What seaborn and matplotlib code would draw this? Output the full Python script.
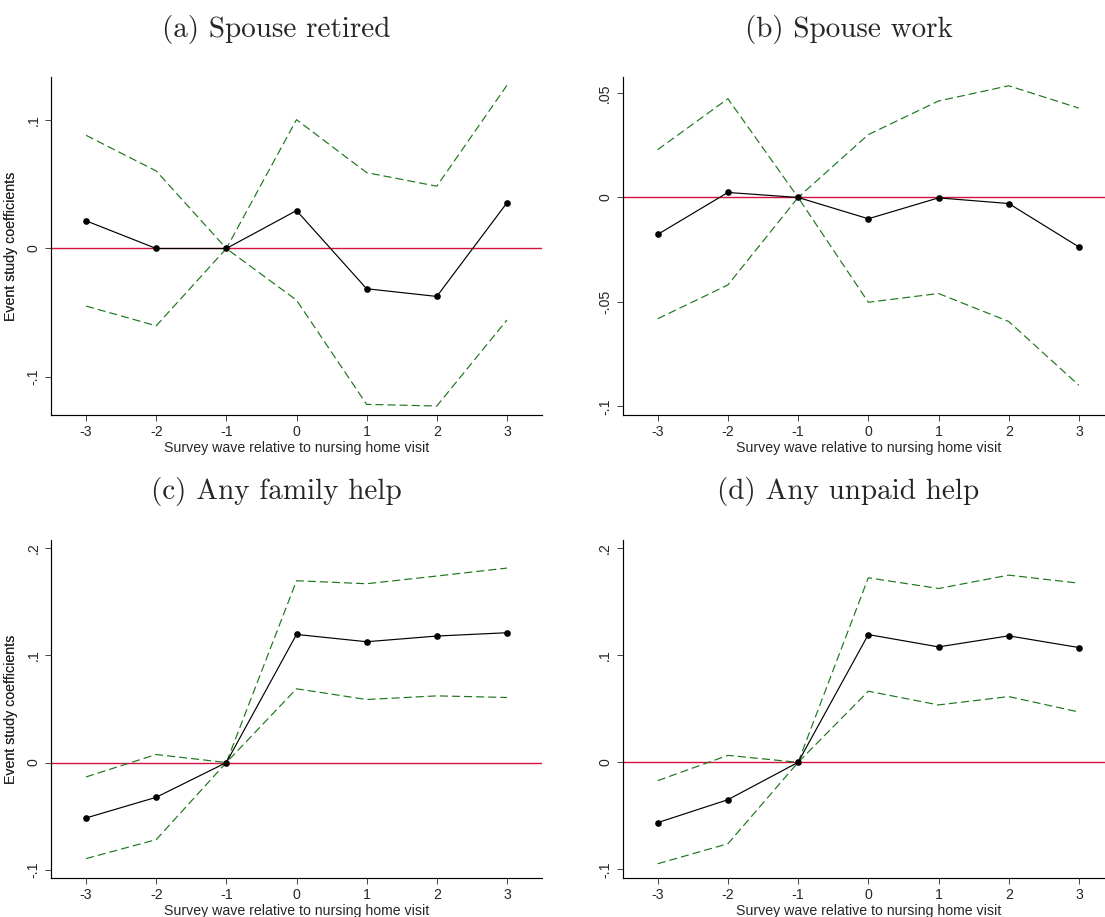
import matplotlib
matplotlib.use("Agg")
import matplotlib.pyplot as plt
import seaborn as sns

# Event-study estimates by survey wave relative to the nursing home visit
waves = [-3, -2, -1, 0, 1, 2, 3]
wave_labels = ["-3", "-2", "-1", "0", "1", "2", "3"]

# (a) Spouse retired
retired_coef = [0.0216, 0.0000, 0.0, 0.0296, -0.0314, -0.0374, 0.0356]
retired_upper = [0.0883, 0.0605, 0.0, 0.1005, 0.0592, 0.0486, 0.1273]
retired_lower = [-0.0449, -0.0603, 0.0, -0.0403, -0.1216, -0.1229, -0.0558]
retired_ticks = [-0.1, 0.0, 0.1]
retired_ticklabels = ["-.1", "0", ".1"]

# (b) Spouse work
work_coef = [-0.0177, 0.0024, 0.0, -0.0102, -0.0002, -0.0029, -0.0237]
work_upper = [0.0229, 0.0473, 0.0, 0.0301, 0.0462, 0.0535, 0.0428]
work_lower = [-0.0581, -0.0419, 0.0, -0.0502, -0.0460, -0.0594, -0.0900]
work_ticks = [-0.1, -0.05, 0.0, 0.05]
work_ticklabels = ["-.1", "-.05", "0", ".05"]

# (c) Any family help
family_coef = [-0.0517, -0.0324, 0.0, 0.1195, 0.1127, 0.1180, 0.1211]
family_upper = [-0.0134, 0.0075, 0.0, 0.1696, 0.1668, 0.1740, 0.1814]
family_lower = [-0.0896, -0.0719, 0.0, 0.0688, 0.0588, 0.0622, 0.0607]
family_ticks = [-0.1, 0.0, 0.1, 0.2]
family_ticklabels = ["-.1", "0", ".1", ".2"]

# (d) Any unpaid help
unpaid_coef = [-0.0563, -0.0349, 0.0, 0.1193, 0.1078, 0.1181, 0.1072]
unpaid_upper = [-0.0171, 0.0065, 0.0, 0.1723, 0.1623, 0.1748, 0.1673]
unpaid_lower = [-0.0947, -0.0760, 0.0, 0.0664, 0.0536, 0.0614, 0.0470]
unpaid_ticks = [-0.1, 0.0, 0.1, 0.2]
unpaid_ticklabels = ["-.1", "0", ".1", ".2"]

titles = ["(a) Spouse retired", "(b) Spouse work", "(c) Any family help", "(d) Any unpaid help"]
xlabel = "Survey wave relative to nursing home visit"
ylabel = "Event study coefficients"

sns.set_style("ticks")
plt.rcParams["font.family"] = ["Liberation Sans", "DejaVu Sans"]
plt.rcParams["axes.unicode_minus"] = False
plt.rcParams["lines.scale_dashes"] = False

W, H = 1105, 917
fig = plt.figure(figsize=(W / 100, H / 100), dpi=100)

GREEN = "#1c761c"
RED = "#d4103c"

# panel boxes in pixels: left, right, top, bottom
boxes = [
    (51, 542, 77, 415),
    (622.6, 1114, 77, 415),
    (51, 542, 540, 878),
    (622.6, 1114, 540, 878),
]
ylims = [(-0.1299, 0.1338), (-0.1042, 0.0577), (-0.1077, 0.2076), (-0.1080, 0.2076)]
title_pos = [(276, 30), (849, 30), (276, 492), (848, 492)]

panels = [
    (retired_coef, retired_upper, retired_lower, retired_ticks, retired_ticklabels),
    (work_coef, work_upper, work_lower, work_ticks, work_ticklabels),
    (family_coef, family_upper, family_lower, family_ticks, family_ticklabels),
    (unpaid_coef, unpaid_upper, unpaid_lower, unpaid_ticks, unpaid_ticklabels),
]

for i, (coef, upper, lower, yt, ytl) in enumerate(panels):
    l, r, t, b = boxes[i]
    ax = fig.add_axes([l / W, 1 - b / H, (r - l) / W, (b - t) / H])
    ax.axhline(0, color=RED, lw=1.0, zorder=1)
    for band in (upper, lower):
        sns.lineplot(x=waves, y=band, ax=ax, color=GREEN, lw=0.85,
                     linestyle=(0, (5.8, 2.9)), estimator=None, sort=False, zorder=2)
    sns.lineplot(x=waves, y=coef, ax=ax, color="black", lw=0.85, marker="o",
                 markersize=4.8, markeredgewidth=0, estimator=None, sort=False, zorder=3)
    ax.set_xlim(-3.5, 3.5)
    ax.set_ylim(*ylims[i])
    ax.set_xticks(waves, labels=wave_labels)
    ax.set_yticks(yt, labels=ytl)
    sns.despine(ax=ax)
    for s in ("left", "bottom"):
        ax.spines[s].set_linewidth(0.85)
        ax.spines[s].set_color("black")
    ax.tick_params(axis="both", length=4, width=0.7, color="#444444",
                   labelsize=10.2, pad=3.5)
    ax.tick_params(axis="y", labelrotation=90)
    for lbl in ax.get_yticklabels():
        lbl.set_va("center")
    ax.set_xlabel(xlabel, fontsize=10.2, labelpad=1)
    ax.set_ylabel(ylabel, fontsize=10.2)
    ax.yaxis.set_label_coords((18.4 - l) / (r - l), 0.5)
    tx, ty = title_pos[i]
    fig.text(tx / W, 1 - ty / H, titles[i], family="cmr10", fontsize=21,
             ha="center", va="center")

fig.savefig("out.png", dpi=100)
